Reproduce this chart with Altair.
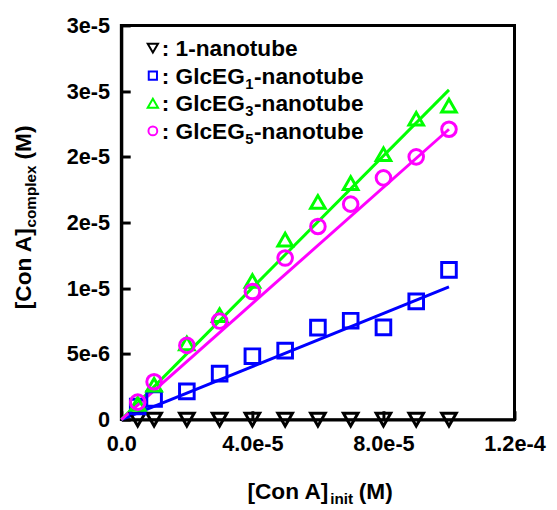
import json
import altair as alt
import pandas as pd

# ---------------- data ----------------
series_names = ["1-nanotube", "GlcEG₁-nanotube", "GlcEG₃-nanotube", "GlcEG₅-nanotube"]
series_colors = ["#000000", "#0000ff", "#00ff00", "#ff00ff"]
series_shapes = ["triangle-down", "square", "triangle-up", "circle"]

conc_init = [5e-6, 1e-5, 2e-5, 3e-5, 4e-5, 5e-5, 6e-5, 7e-5, 8e-5, 9e-5, 1e-4]
complex_1 = [0.0, 0.0, 0.0, 0.0, 0.0, 0.0, 0.0, 0.0, 0.0, 0.0, 0.0]
complex_eg1 = [1.0e-6, 1.57e-6, 2.15e-6, 3.5e-6, 4.83e-6, 5.25e-6, 7.0e-6, 7.53e-6, 7.02e-6, 9.0e-6, 1.14e-5]
complex_eg3 = [1.2e-6, 2.65e-6, 5.8e-6, 7.95e-6, 1.055e-5, 1.37e-5, 1.657e-5, 1.8e-5, 2.02e-5, 2.29e-5, 2.39e-5]
complex_eg5 = [1.33e-6, 2.88e-6, 5.65e-6, 7.5e-6, 9.75e-6, 1.23e-5, 1.47e-5, 1.64e-5, 1.84e-5, 2.0e-5, 2.21e-5]

fit_x = [0.0, 1e-4]
fit_eg1 = [0.0, 1.01e-5]
fit_eg3 = [0.0, 2.51e-5]
fit_eg5 = [0.0, 2.21e-5]

x_ticks = [0.0, 4e-5, 8e-5, 1.2e-4]
x_tick_labels = ["0.0", "4.0e-5", "8.0e-5", "1.2e-4"]
y_ticks = [0.0, 5e-6, 1e-5, 1.5e-5, 2e-5, 2.5e-5, 3e-5]
y_tick_labels = ["0", "5e-6", "1e-5", "2e-5", "2e-5", "3e-5", "3e-5"]

# ---------------- tables ----------------
rows = []
for name, ys in zip(series_names, [complex_1, complex_eg1, complex_eg3, complex_eg5]):
    for xv, yv in zip(conc_init, ys):
        rows.append({"x": xv, "y": yv, "series": name})
points_df = pd.DataFrame(rows)

frows = []
for name, ys in zip(series_names[1:], [fit_eg1, fit_eg3, fit_eg5]):
    for xv, yv in zip(fit_x, ys):
        frows.append({"x": xv, "y": yv, "series": name})
fit_df = pd.DataFrame(frows)

FONT = "Liberation Sans"
W, H = 399, 400

x_label_expr = f"{json.dumps(x_tick_labels)}[round(datum.value/{x_ticks[1]})]"
y_label_expr = f"{json.dumps(y_tick_labels)}[round(datum.value/{y_ticks[1]})]"

x_enc = alt.X(
    "x:Q",
    scale=alt.Scale(domain=[x_ticks[0], x_ticks[-1]], nice=False, zero=True),
    axis=alt.Axis(
        values=x_ticks, labelExpr=x_label_expr, title=None, grid=False,
        domainColor="black", domainWidth=3, tickColor="black", tickWidth=3,
        tickSize=alt.ExprRef(expr="-9"), labelPadding=23,
        labelFont=FONT, labelFontSize=22, labelFontWeight="bold", labelColor="black",
        labelFlush=False, labelOverlap=False,
    ),
)
y_enc = alt.Y(
    "y:Q",
    scale=alt.Scale(domain=[y_ticks[0], y_ticks[-1]], nice=False, zero=True),
    axis=alt.Axis(
        values=y_ticks, labelExpr=y_label_expr, title=None, grid=False,
        domainColor="black", domainWidth=3, tickColor="black", tickWidth=3,
        tickSize=alt.ExprRef(expr="-9"), labelPadding=21,
        labelFont=FONT, labelFontSize=22, labelFontWeight="bold", labelColor="black",
        labelFlush=False, labelOverlap=False,
    ),
)

color_scale = alt.Scale(domain=series_names, range=series_colors)
shape_scale = alt.Scale(domain=series_names, range=series_shapes)

fit_lines = alt.Chart(fit_df).mark_line(strokeWidth=3).encode(
    x=x_enc,
    y=y_enc,
    stroke=alt.Stroke("series:N", scale=color_scale, legend=None),
    detail="series:N",
)

points = alt.Chart(points_df).mark_point(filled=False, strokeWidth=3, size=220, opacity=1).encode(
    x=x_enc,
    y=y_enc,
    color=alt.Color("series:N", scale=color_scale, legend=None),
    shape=alt.Shape("series:N", scale=shape_scale, legend=None),
)

one_row = pd.DataFrame({"k": [0]})

# frame (top and right edges of the plot box)
frame_top = alt.Chart(one_row).mark_rule(color="black", strokeWidth=3).encode(
    x=alt.value(0), x2=alt.value(W), y=alt.value(0))
frame_right = alt.Chart(one_row).mark_rule(color="black", strokeWidth=3).encode(
    x=alt.value(W), y=alt.value(0), y2=alt.value(H))

# ---------------- legend (inside the plot, top left) ----------------
SUBS = {"₁": "1", "₃": "3", "₅": "5"}
LFS = 23      # legend font size
SFS = 15      # subscript font size
legend_rows_y = [23, 51, 79, 107]
legend_sizes = [110, 70, 110, 80]


def split_name(name):
    for k, v in SUBS.items():
        if k in name:
            head, tail = name.split(k)
            return head, v, tail
    return name, "", ""


def legend_text(text, x, y, size):
    return alt.Chart(pd.DataFrame({"t": [text]})).mark_text(
        font=FONT, fontSize=size, fontWeight="bold", color="black",
        align="left", baseline="alphabetic",
    ).encode(text="t:N", x=alt.value(x), y=alt.value(y))


legend_layers = []
for name, ly, sz in zip(series_names, legend_rows_y, legend_sizes):
    d = pd.DataFrame({"series": [name]})
    legend_layers.append(
        alt.Chart(d).mark_point(filled=False, strokeWidth=2, size=sz, opacity=1).encode(
            x=alt.value(32), y=alt.value(ly),
            color=alt.Color("series:N", scale=color_scale, legend=None),
            shape=alt.Shape("series:N", scale=shape_scale, legend=None),
        )
    )
    head, sub, tail = split_name(name)
    x0 = 41
    legend_layers.append(legend_text(": " + head, x0, ly + 8, LFS))
    if sub:
        # width of ": GlcEG" in Arial/Liberation Sans Bold em units
        head_w = (0.333 + 0.278 + 0.778 + 0.278 + 0.556 + 0.667 + 0.778) * LFS
        xs = x0 + head_w + 0.5
        legend_layers.append(legend_text(sub, xs, ly + 13, SFS))
        legend_layers.append(legend_text(tail, xs + 0.556 * SFS + 0.5, ly + 8, LFS))

# ---------------- axis titles (with subscripts) ----------------
def title_text(text, x, y, size, angle=0):
    return alt.Chart(pd.DataFrame({"t": [text]})).mark_text(
        font=FONT, fontSize=size, fontWeight="bold", color="black",
        align="left", baseline="alphabetic", angle=angle,
    ).encode(text="t:N", x=alt.value(x), y=alt.value(y))

x_title = [
    title_text("[Con A]", 128, 481, 23),
    title_text("init", 212, 486, 15.5),
    title_text("(M)", 241, 481, 23),
]
y_title = [
    title_text("[Con A]", -92, 288, 23, 270),
    title_text("complex", -87, 205, 15.5, 270),
    title_text("(M)", -92, 136, 23, 270),
]

chart = alt.layer(
    fit_lines, points, frame_top, frame_right, *legend_layers, *x_title, *y_title
).properties(
    width=W,
    height=H,
    autosize=alt.AutoSizeParams(type="none"),
    padding={"left": 115, "top": 14, "right": 35, "bottom": 88},
    background="white",
).configure_view(
    stroke="black", strokeWidth=3
)

chart.save("out.html", embed_options={"renderer": "svg", "actions": False})
